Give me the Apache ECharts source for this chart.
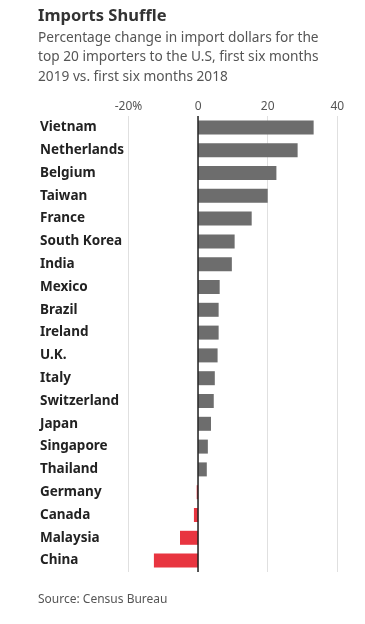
<!DOCTYPE html>
<html>
<head>
<meta charset="utf-8">
<script src="https://cdn.jsdelivr.net/npm/echarts@6/dist/echarts.min.js"></script>
<style>html,body{margin:0;padding:0;background:#fff}#c{width:365px;height:624px}</style>
</head>
<body>
<div id="c"></div>
<script>
const categories = ["Vietnam","Netherlands","Belgium","Taiwan","France","South Korea","India","Mexico","Brazil","Ireland","U.K.","Italy","Switzerland","Japan","Singapore","Thailand","Germany","Canada","Malaysia","China"];
const values = [33.2,28.6,22.5,20.0,15.4,10.5,9.7,6.2,5.9,5.9,5.6,4.8,4.5,3.7,2.8,2.5,-0.4,-1.2,-5.2,-12.7];
const tickLabels = {"-20":"-20%","0":"0","20":"20","40":"40"};
const titleText = "Imports Shuffle";
const subText = "Percentage change in import dollars for the\ntop 20 importers to the U.S, first six months\n2019 vs. first six months 2018";
const sourceText = "Source: Census Bureau";

const chart = echarts.init(document.getElementById('c'), null, {renderer:'canvas'});
const font = '"Noto Sans", "Open Sans", sans-serif';
chart.setOption({
  animation:false,
  title:[
    {text:titleText, left:33, top:3, textStyle:{fontFamily:font, fontSize:16.5, fontWeight:'bold', color:'#333'},
     subtext:subText, itemGap:3, subtextStyle:{fontFamily:font, fontSize:13.7, color:'#555', lineHeight:19.5}},
    {text:sourceText, left:33, top:589, textStyle:{fontFamily:font, fontSize:12, fontWeight:'normal', color:'#555'}}
  ],
  grid:{left:128.5, right:27.7, top:116, bottom:52, containLabel:false},
  xAxis:{type:'value', position:'top', min:-20, max:40, interval:20,
    axisLine:{show:false}, axisTick:{show:false},
    axisLabel:{fontFamily:font, fontSize:12, color:'#555', margin:3, formatter:v=>tickLabels[String(v)]},
    splitLine:{lineStyle:{color:'#e0e0e0', width:1}}},
  yAxis:{type:'category', data:categories, inverse:true,
    axisLine:{show:false, onZero:false}, axisTick:{show:false},
    axisLabel:{align:'left', margin:88.5, fontFamily:font, fontSize:13.5, fontWeight:'bold', color:'#222'}},
  series:[{type:'bar', barWidth:14,
    data:values.map(v=>({value:v, itemStyle:{color: v<0 ? '#e83540' : '#6d6d6d'}})),
    markLine:{silent:true, symbol:'none', label:{show:false}, lineStyle:{color:'#222', width:1.5, type:'solid'},
      data:[{xAxis:0}]}
  }]
});
</script>
</body>
</html>
